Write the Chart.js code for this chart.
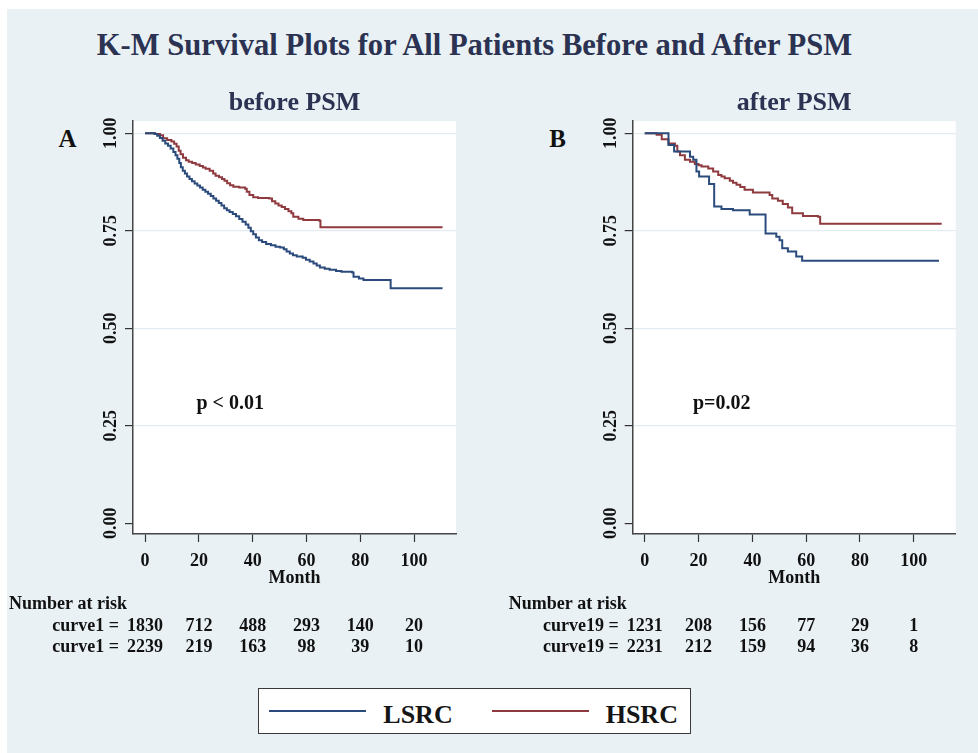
<!DOCTYPE html>
<html>
<head>
<meta charset="utf-8">
<script src="https://cdn.jsdelivr.net/npm/chart.js@4/dist/chart.umd.min.js"></script>
<style>
  html, body { margin:0; padding:0; background:#ffffff; overflow:hidden; width:978px; height:753px; }
  #bg { position:absolute; left:7px; top:9px; width:971px; height:744px; background:#e9f1f5; }
  .abs { position:absolute; font-family:"Liberation Serif", "Times New Roman", serif; font-weight:bold; white-space:nowrap; }
  #title { left:0; top:30px; width:949px; text-align:center; font-size:30.6px; line-height:30.6px; color:#2b3252; }
  .letter { width:100px; text-align:center; top:125.8px; font-size:25px; line-height:25px; color:#111; }
  .wrap { position:absolute; }
  #legendBox { position:absolute; left:258px; top:688px; width:431px; height:44px; background:#fff; border:1.5px solid #3a3a3a; }
  .swatch { position:absolute; height:2.6px; }
  .ltext { top:701.5px; font-size:26px; line-height:26px; color:#151515; }
</style>
</head>
<body>
<div id="bg"></div>
<div id="title" class="abs"></div>
<div id="letterA" class="abs letter" style="left:17.5px"></div>
<div id="letterB" class="abs letter" style="left:507.5px"></div>
<div class="wrap" style="left:0px;top:80px;"><canvas id="chartA" width="478" height="580" style="width:478px;height:580px"></canvas></div>
<div class="wrap" style="left:490px;top:80px;"><canvas id="chartB" width="488" height="580" style="width:488px;height:580px"></canvas></div>
<div id="legendBox"></div>
<div id="legendItems"></div>
<script>
// ---------------- data ----------------
const mainTitle = 'K-M Survival Plots for All Patients Before and After PSM';
const panelTitles = ['before PSM', 'after PSM'];
const panelLetters = ['A', 'B'];
const seriesNames = ['LSRC', 'HSRC'];
const seriesColors = ['#2a4b7b', '#8e3a3e'];
const xTicks = [0, 20, 40, 60, 80, 100];
const yTicks = [0, 0.25, 0.5, 0.75, 1];
const xAxisTitle = 'Month';
const pValueTexts = ['p < 0.01', 'p=0.02'];
const pValueMonth = [19.1, 17.9];
const pValueSurv = [0.292, 0.292];
const riskHeader = 'Number at risk';
const riskLabelsA = ['curve1', 'curve1'];
const riskLabelsB = ['curve19', 'curve19'];
const riskA1 = [1830, 712, 488, 293, 140, 20];
const riskA2 = [2239, 219, 163, 98, 39, 10];
const riskB1 = [1231, 208, 156, 77, 29, 1];
const riskB2 = [2231, 212, 159, 94, 36, 8];

// Panel A (before PSM)
const aLsrcMonth = [0, 3.5, 4.5, 5.5, 6.5, 7.5, 8.5, 9.5, 10.5, 11.3, 12.0, 12.7, 13.3, 14.0, 14.8, 15.6, 16.5, 17.4, 18.4, 19.4, 20.4, 21.4, 22.4, 23.4, 24.4, 25.4, 26.4, 27.4, 28.4, 29.4, 30.4, 31.4, 32.6, 33.8, 35.0, 36.2, 37.4, 38.4, 39.3, 40.2, 41.2, 42.3, 43.5, 45.0, 46.8, 48.5, 50.2, 51.6, 52.6, 53.8, 55.0, 56.4, 58.6, 59.8, 61.2, 62.6, 63.8, 65.0, 66.8, 68.6, 71.0, 73.0, 77.0, 77.5, 79.5, 81.2, 91.3, 110.6];
const aLsrcSurv  = [1, 0.998, 0.994, 0.988, 0.981, 0.974, 0.968, 0.961, 0.952, 0.944, 0.935, 0.924, 0.913, 0.904, 0.897, 0.889, 0.883, 0.877, 0.871, 0.866, 0.861, 0.855, 0.850, 0.845, 0.839, 0.833, 0.827, 0.821, 0.815, 0.808, 0.803, 0.798, 0.793, 0.787, 0.780, 0.773, 0.766, 0.758, 0.749, 0.741, 0.733, 0.726, 0.721, 0.716, 0.713, 0.709, 0.707, 0.703, 0.697, 0.692, 0.687, 0.684, 0.681, 0.676, 0.671, 0.666, 0.661, 0.656, 0.653, 0.650, 0.647, 0.645, 0.643, 0.632, 0.628, 0.624, 0.603, 0.603];
const aHsrcMonth = [0, 3.8, 5.5, 6.7, 8.2, 9.8, 10.8, 11.7, 12.5, 13.2, 14.1, 15.2, 16.2, 17.5, 18.8, 20.3, 21.5, 22.5, 24.0, 25.3, 26.2, 27.5, 28.6, 29.5, 30.5, 31.6, 32.8, 35.0, 37.2, 37.8, 38.8, 40.2, 42.0, 46.2, 47.2, 48.4, 49.6, 50.8, 52.0, 53.3, 54.4, 55.1, 57.0, 58.8, 64.8, 65.2, 110.6];
const aHsrcSurv  = [1, 0.998, 0.995, 0.987, 0.983, 0.979, 0.973, 0.966, 0.955, 0.946, 0.937, 0.931, 0.927, 0.924, 0.920, 0.916, 0.912, 0.909, 0.904, 0.897, 0.891, 0.887, 0.883, 0.878, 0.872, 0.867, 0.863, 0.861, 0.858, 0.850, 0.842, 0.836, 0.834, 0.833, 0.826, 0.820, 0.815, 0.811, 0.806, 0.800, 0.795, 0.786, 0.781, 0.778, 0.776, 0.759, 0.759];

// Panel B (after PSM)
const bLsrcMonth = [0, 8.8, 10.9, 16.8, 18.0, 19.2, 20.2, 23.9, 25.8, 28.5, 32.8, 39.0, 44.9, 48.9, 50.1, 51.1, 53.2, 56.3, 58.5, 109.4];
const bLsrcSurv  = [1, 0.970, 0.953, 0.940, 0.932, 0.902, 0.889, 0.870, 0.812, 0.806, 0.803, 0.792, 0.743, 0.735, 0.726, 0.705, 0.697, 0.684, 0.673, 0.673];
const bHsrcMonth = [0, 4.4, 6.3, 8.8, 11.2, 12.1, 13.1, 14.9, 16.8, 18.6, 20.0, 21.1, 23.6, 25.4, 27.3, 28.5, 29.7, 31.6, 32.8, 34.1, 35.5, 37.1, 40.2, 46.4, 47.4, 49.5, 51.3, 53.2, 54.8, 58.8, 64.4, 65.2, 110.4];
const bHsrcSurv  = [1, 0.996, 0.985, 0.974, 0.968, 0.953, 0.944, 0.932, 0.927, 0.921, 0.918, 0.915, 0.910, 0.902, 0.893, 0.889, 0.885, 0.878, 0.873, 0.868, 0.862, 0.855, 0.848, 0.842, 0.833, 0.827, 0.819, 0.810, 0.795, 0.788, 0.786, 0.768, 0.768];

// ---------------- rendering ----------------
const SERIF = '"Liberation Serif", "Times New Roman", serif';
document.getElementById('title').textContent = mainTitle;
document.getElementById('letterA').textContent = panelLetters[0];
document.getElementById('letterB').textContent = panelLetters[1];

function toPoints(ms, ss) { return ms.map((m, i) => ({ x: m, y: ss[i] })); }

const whiteArea = {
  id: 'whiteArea',
  beforeDraw(chart) {
    const { ctx, chartArea: a } = chart;
    ctx.save();
    ctx.fillStyle = '#ffffff';
    ctx.fillRect(a.left, a.top, a.right - a.left, a.bottom - a.top);
    ctx.restore();
  }
};

const extras = {
  id: 'extras',
  afterDraw(chart, args, o) {
    const { ctx, chartArea: a } = chart;
    const xs = chart.scales.x, ys = chart.scales.y;
    ctx.save();
    ctx.fillStyle = '#111';
    ctx.textBaseline = 'alphabetic';
    // p-value
    ctx.font = 'bold 20px ' + SERIF;
    ctx.textAlign = 'left';
    ctx.fillText(o.pText, xs.getPixelForValue(o.pMonth), ys.getPixelForValue(o.pSurv));
    // risk table
    ctx.font = 'bold 18px ' + SERIF;
    ctx.fillText(riskHeader, a.left - 124, a.bottom + 75.3);
    o.rows.forEach((row, r) => {
      const yb = a.bottom + 97 + r * 21;
      ctx.textAlign = 'center';
      row.forEach((n, i) => ctx.fillText(String(n), xs.getPixelForValue(xTicks[i]), yb));
      const w0 = ctx.measureText(String(row[0])).width;
      ctx.textAlign = 'right';
      ctx.fillText(o.labels[r] + ' =', xs.getPixelForValue(xTicks[0]) - w0 / 2 - 8, yb);
    });
    ctx.restore();
  }
};

function makeChart(id, cfg) {
  return new Chart(document.getElementById(id), {
    type: 'line',
    data: {
      datasets: [
        { label: seriesNames[0], data: toPoints(cfg.m0, cfg.s0), borderColor: seriesColors[0], borderWidth: 2, pointRadius: 0, stepped: 'before', fill: false },
        { label: seriesNames[1], data: toPoints(cfg.m1, cfg.s1), borderColor: seriesColors[1], borderWidth: 2, pointRadius: 0, stepped: 'before', fill: false }
      ]
    },
    options: {
      responsive: false,
      animation: false,
      devicePixelRatio: 1,
      layout: { padding: { left: 0, right: cfg.padRight, top: 0, bottom: 70 } },
      plugins: {
        legend: { display: false },
        tooltip: { enabled: false },
        title: {
          display: true, text: cfg.title, fullSize: false, color: '#2b3252',
          font: { family: SERIF, size: 26, weight: 'bold', lineHeight: 1.2 },
          padding: { top: 8, bottom: 2 }
        },
        extras: { pText: cfg.pText, pMonth: cfg.pMonth, pSurv: cfg.pSurv, rows: cfg.rows, labels: cfg.labels }
      },
      scales: {
        x: {
          type: 'linear', min: -4.5, max: 115.6,
          afterBuildTicks: s => { s.ticks = xTicks.map(v => ({ value: v })); },
          afterFit: s => { s.height = 56; },
          grid: { drawOnChartArea: false, drawTicks: true, tickLength: 8, tickColor: '#333', tickWidth: 1.2 },
          border: { display: true, color: '#444', width: 1.5 },
          ticks: { color: '#111', font: { family: SERIF, size: 18, weight: 'bold' }, padding: 9, minRotation: 0, maxRotation: 0, autoSkip: false },
          title: { display: true, text: xAxisTitle, color: '#111', font: { family: SERIF, size: 18, weight: 'bold', lineHeight: 1.3 }, padding: 0 }
        },
        y: {
          type: 'linear', min: -0.0274, max: 1.031,
          afterBuildTicks: s => { s.ticks = yTicks.map(v => ({ value: v })); },
          afterFit: s => { s.width = cfg.yWidth; },
          grid: {
            color: c => (c.tick && c.tick.value === 0) ? 'rgba(0,0,0,0)' : '#e2ecf0',
            lineWidth: 1.2, drawTicks: true, tickLength: 8, tickColor: '#333', tickWidth: 1.2
          },
          border: { display: true, color: '#444', width: 1.5 },
          ticks: {
            color: '#111', font: { family: SERIF, size: 18, weight: 'bold' }, padding: -2.5,
            minRotation: 90, maxRotation: 90, crossAlign: 'center', autoSkip: false,
            callback: v => Number(v).toFixed(2)
          }
        }
      }
    },
    plugins: [whiteArea, extras]
  });
}

makeChart('chartA', {
  title: panelTitles[0], m0: aLsrcMonth, s0: aLsrcSurv, m1: aHsrcMonth, s1: aHsrcSurv,
  padRight: 22, yWidth: 133,
  pText: pValueTexts[0], pMonth: pValueMonth[0], pSurv: pValueSurv[0],
  rows: [riskA1, riskA2], labels: riskLabelsA
});
makeChart('chartB', {
  title: panelTitles[1], m0: bLsrcMonth, s0: bLsrcSurv, m1: bHsrcMonth, s1: bHsrcSurv,
  padRight: 22.3, yWidth: 142.7,
  pText: pValueTexts[1], pMonth: pValueMonth[1], pSurv: pValueSurv[1],
  rows: [riskB1, riskB2], labels: riskLabelsB
});

// legend (HTML) built from series names/colours
const li = document.getElementById('legendItems');
const swX = [269.3, 492.3], txtX = [383.3, 605.7];
seriesNames.forEach((n, i) => {
  const sw = document.createElement('div');
  sw.className = 'swatch';
  sw.style.left = swX[i] + 'px'; sw.style.top = '709.7px'; sw.style.width = '97px';
  sw.style.background = seriesColors[i];
  li.appendChild(sw);
  const t = document.createElement('div');
  t.className = 'abs ltext';
  t.style.left = txtX[i] + 'px';
  t.textContent = n;
  li.appendChild(t);
});
</script>
</body>
</html>
